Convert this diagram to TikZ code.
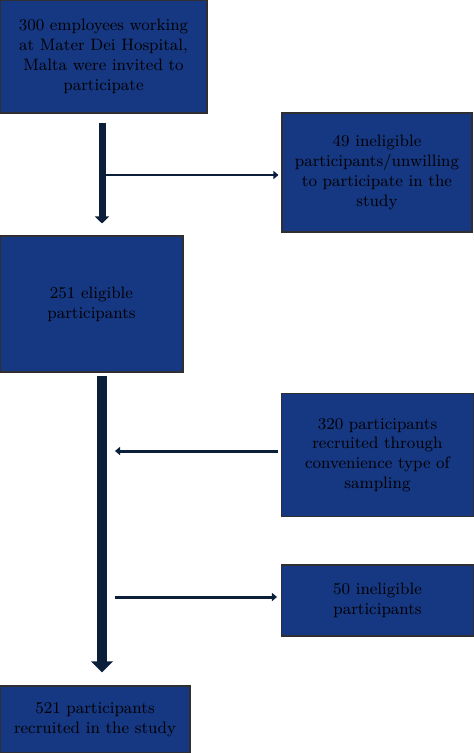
\documentclass[tikz,border=0pt]{standalone}
\usetikzlibrary{arrows.meta}
\definecolor{stagefill}{RGB}{22,55,129}
\definecolor{stageedge}{RGB}{46,46,51}
\definecolor{flowdark}{RGB}{11,30,58}
\tikzset{
  stagebox/.style={
    rectangle,
    inner sep=0pt,
    line width=0.6pt,
    draw=stageedge,
    fill=stagefill,
    text=black,
    align=center,
    font=\fontsize{9.4}{11.3}\selectfont,
  },
  mainflow/.style={
    -{Triangle[length=0.14cm,width=0.28cm]},
    draw=flowdark,
    line width=0.14cm,
  },
  bigflow/.style={
    -{Triangle[length=0.22cm,width=0.42cm]},
    draw=flowdark,
    line width=0.2cm,
  },
  sideflow/.style={
    -{Triangle[length=0.1cm,width=0.16cm]},
    draw=flowdark,
    line width=0.06cm,
  },
}
\begin{document}
\begin{tikzpicture}[x=0.02cm,y=-0.02cm]
  \useasboundingbox (0,0) rectangle (473,753);

  % Stages of the recruitment.
  \node[stagebox, minimum width=4.14cm, minimum height=2.26cm] (invited) at (103.5,56.5)
    {300 employees working\\at Mater Dei Hospital,\\Malta were invited to\\participate};
  \node[stagebox, minimum width=3.80cm, minimum height=2.38cm] (unwilling) at (377,172.5)
    {49 ineligible\\participants/unwilling\\to participate in the\\study};
  \node[stagebox, minimum width=3.66cm, minimum height=2.72cm] (eligible) at (91.5,304)
    {251 eligible\\participants};
  \node[stagebox, minimum width=3.84cm, minimum height=2.46cm] (convenience) at (377.5,455)
    {320 participants\\recruited through\\convenience type of\\sampling};
  \node[stagebox, minimum width=3.84cm, minimum height=1.42cm] (ineligible) at (377.5,600.5)
    {50 ineligible\\participants};
  \node[stagebox, minimum width=3.80cm, minimum height=1.34cm] (recruited) at (95,719.5)
    {521 participants\\recruited in the study};

  % Points where the side arrows meet the main flow.
  \coordinate (split) at (102,175);
  \coordinate (merge) at (115,451);
  \coordinate (leave) at (115,597);

  % Main flow downwards.
  \draw[mainflow, shorten <=0.18cm, shorten >=0.24cm] (invited.south -| split) -- (eligible.north -| split);
  \draw[bigflow, shorten <=0.06cm, shorten >=0.26cm] (eligible.south -| split) -- (recruited.north -| split);

  % Side arrows.
  \draw[sideflow, shorten >=0.06cm] (split) -- (split -| unwilling.west);
  \draw[sideflow, shorten <=0.06cm] (merge -| convenience.west) -- (merge);
  \draw[sideflow, shorten >=0.08cm] (leave) -- (leave -| ineligible.west);
\end{tikzpicture}
\end{document}
